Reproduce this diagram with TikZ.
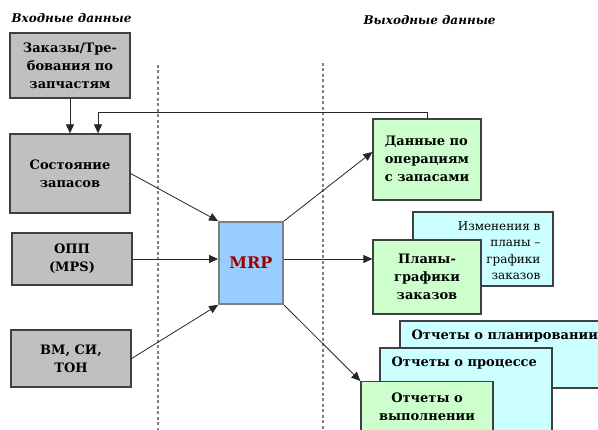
\documentclass[tikz,border=0pt]{standalone}
\usepackage{fontspec}
\setmainfont{DejaVu Serif}
\usetikzlibrary{arrows.meta}
\definecolor{boxgray}{HTML}{C0C0C0}
\definecolor{mrpblue}{HTML}{99CCFF}
\definecolor{outgreen}{HTML}{CCFFCC}
\definecolor{outcyan}{HTML}{CCFFFF}
\definecolor{edge}{HTML}{404040}
\definecolor{mrpred}{HTML}{990000}
\begin{document}
\begin{tikzpicture}[x=1pt,y=-1pt,
  base/.style={draw=edge,line width=1.3pt,rectangle,inner sep=0pt,align=center,
    font=\fontsize{13}{18}\selectfont\bfseries},
  inbox/.style={base,fill=boxgray},
  outbox/.style={base,fill=outgreen},
  backbox/.style={base,fill=outcyan},
  mrpbox/.style={base,fill=mrpblue,draw=gray,line width=1.8pt,text=mrpred,
    font=\fontsize{16}{18}\selectfont\bfseries},
  heading/.style={font=\fontsize{12}{15}\selectfont\bfseries\itshape,anchor=west},
  plain/.style={font=\fontsize{12}{16.5}\selectfont,align=right},
  arr/.style={draw=black!85,line width=0.8pt,-{Triangle[length=9pt,width=8pt]}},
  divider/.style={draw=gray,line width=1.1pt,dash pattern=on 3pt off 2.5pt}]
\useasboundingbox (0,0) rectangle (598,430);
\clip (0,0) rectangle (598,430);

% headings
\node[heading] (hin) at (8,18) {Входные данные};
\node[heading] (hout) at (360,20) {Выходные данные};

% dividing lines
\coordinate (d1t) at (158,65);
\coordinate (d1b) at (158,432);
\coordinate (d2t) at (323,63);
\coordinate (d2b) at (323,432);
\draw[divider] (d1t) -- (d1b);
\draw[divider] (d2t) -- (d2b);

% inputs
\node[inbox,minimum width=120pt,minimum height=65pt] (orders) at (70,65.5)
  {Заказы/Тре-\\бования по\\запчастям};
\node[inbox,minimum width=120pt,minimum height=79pt] (stock) at (70,173.5)
  {Состояние\\запасов};
\node[inbox,minimum width=120pt,minimum height=52pt] (mps) at (72,259)
  {ОПП\\(MPS)};
\node[inbox,minimum width=120pt,minimum height=57pt] (bom) at (71,358.5)
  {ВМ, СИ,\\ТОН};

% MRP
\node[mrpbox,minimum width=64pt,minimum height=82pt] (mrp) at (251,263) {MRP};

% outputs (back layers first)
\node[backbox,minimum width=140pt,minimum height=74pt] (chg) at (483,249) {};
\node[plain,anchor=north east] (chgtxt) at (544,218)
  {Изменения в\\планы –\\графики\\заказов};
\node[outbox,minimum width=108pt,minimum height=81pt] (ops) at (427,159.5)
  {\begin{tabular}{@{}l@{}}Данные по\\операциям\\с запасами\end{tabular}};
\node[outbox,minimum width=108pt,minimum height=74pt] (plans) at (427,277)
  {Планы-\\графики\\заказов};

\node[backbox,minimum width=220pt,minimum height=67pt] (rplan) at (510,354.5) {};
\node[base,draw=none,anchor=west] (rplantxt) at (411,336) {Отчеты о планировании};
\node[backbox,minimum width=172pt,minimum height=92pt] (rproc) at (466,394) {};
\node[base,draw=none,anchor=west] (rproctxt) at (391,363) {Отчеты о процессе};
\node[outbox,minimum width=132pt,minimum height=59pt,anchor=north] (rexec) at (427,381)
  {\\[-18pt]Отчеты о\\выполнении};

% connectors
\draw[arr] (orders.south) -- (stock.north);
\draw[arr] (ops.north) -- ++(0,-6) -| ([xshift=28pt]stock.north);
\draw[arr] (stock.east) -- (mrp.north west);
\draw[arr] (mps.east) -- (mps.east -| mrp.west);
\draw[arr] (bom.east) -- (mrp.south west);
\draw[arr] (mrp.north east) -- ([yshift=7.5pt]ops.west);
\draw[arr] (mps.east -| mrp.east) -- (mps.east -| plans.west);
\draw[arr] (mrp.south east) -- (rexec.north west);
\end{tikzpicture}
\end{document}
